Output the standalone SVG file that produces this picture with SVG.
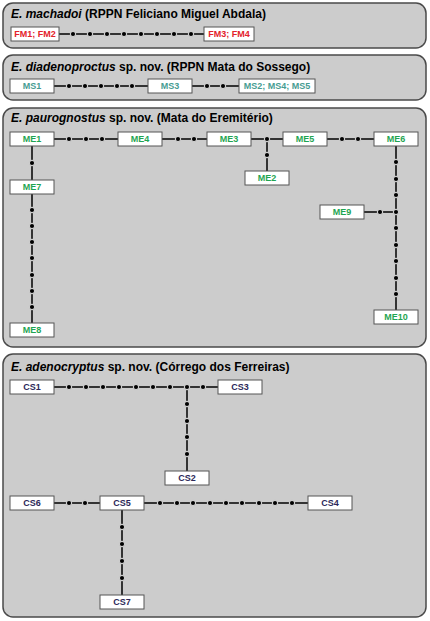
<svg xmlns="http://www.w3.org/2000/svg" width="430" height="621" viewBox="0 0 430 621">
<style>
.panel{fill:#cccccc;stroke:#4a4a4a;stroke-width:1.5}
.title{font-family:"Liberation Sans",Arial,sans-serif;font-size:12px;font-weight:bold;fill:#000}
.it{font-style:italic}
.box{fill:#fff;stroke:#555;stroke-width:1}
.lbl{font-family:"Liberation Sans",Arial,sans-serif;font-size:9px;font-weight:bold;text-anchor:middle}
.fm{fill:#e3222b}.ms{fill:#479c92}.me{fill:#1fa552}.cs{fill:#2c2858}
.ln{stroke:#000;stroke-width:1.5;fill:none}
.dot circle{fill:#000;stroke:#cccccc;stroke-width:1.1}
</style>
<g id="panels">
<rect class="panel" x="3" y="3" width="423" height="45" rx="10"/>
<rect class="panel" x="3" y="55" width="423" height="45" rx="10"/>
<rect class="panel" x="3" y="108" width="423" height="239" rx="10"/>
<rect class="panel" x="3" y="354" width="423" height="263" rx="10"/>
<text class="title" x="11" y="18"><tspan class="it">E. machadoi</tspan> (RPPN Feliciano Miguel Abdala)</text>
<text class="title" x="11" y="71"><tspan class="it">E. diadenoproctus</tspan> sp. nov. (RPPN Mata do Sossego)</text>
<text class="title" x="11" y="122"><tspan class="it">E. paurognostus</tspan> sp. nov. (Mata do Eremitério)</text>
<text class="title" x="11" y="371"><tspan class="it">E. adenocryptus</tspan> sp. nov. (Córrego dos Ferreiras)</text>
</g>
<g id="connectors">
<path class="ln" d="M59 34H204 M54 86H148 M192 86H239 M54 139H118 M162 139H207 M251 139H283 M327 139H374 M267 139V171 M32 146V180 M32 194V323 M396 146V310 M364 212H396 M54 387H218 M187 387V471 M54 503H100 M144 503H308 M122 510V595"/>
<g class="dot">
<circle cx="73" cy="34" r="2.6"/><circle cx="90" cy="34" r="2.6"/><circle cx="107" cy="34" r="2.6"/><circle cx="124" cy="34" r="2.6"/><circle cx="141" cy="34" r="2.6"/><circle cx="157" cy="34" r="2.6"/><circle cx="174" cy="34" r="2.6"/><circle cx="191" cy="34" r="2.6"/>
<circle cx="69" cy="86" r="2.6"/><circle cx="85" cy="86" r="2.6"/><circle cx="101" cy="86" r="2.6"/><circle cx="117" cy="86" r="2.6"/><circle cx="132" cy="86" r="2.6"/>
<circle cx="207" cy="86" r="2.6"/><circle cx="223" cy="86" r="2.6"/>
<circle cx="69" cy="139" r="2.6"/><circle cx="86" cy="139" r="2.6"/><circle cx="102" cy="139" r="2.6"/>
<circle cx="178" cy="139" r="2.6"/><circle cx="194" cy="139" r="2.6"/>
<circle cx="267" cy="139" r="2.6"/><circle cx="267" cy="155" r="2.6"/>
<circle cx="342" cy="139" r="2.6"/><circle cx="358" cy="139" r="2.6"/>
<circle cx="32" cy="163" r="2.6"/>
<circle cx="32" cy="210" r="2.6"/><circle cx="32" cy="226" r="2.6"/><circle cx="32" cy="242" r="2.6"/><circle cx="32" cy="258" r="2.6"/><circle cx="32" cy="275" r="2.6"/><circle cx="32" cy="291" r="2.6"/><circle cx="32" cy="307" r="2.6"/>
<circle cx="396" cy="162" r="2.6"/><circle cx="396" cy="179" r="2.6"/><circle cx="396" cy="195" r="2.6"/><circle cx="396" cy="212" r="2.6"/><circle cx="396" cy="228" r="2.6"/><circle cx="396" cy="245" r="2.6"/><circle cx="396" cy="261" r="2.6"/><circle cx="396" cy="278" r="2.6"/><circle cx="396" cy="294" r="2.6"/>
<circle cx="380" cy="212" r="2.6"/>
<circle cx="69" cy="387" r="2.6"/><circle cx="86" cy="387" r="2.6"/><circle cx="103" cy="387" r="2.6"/><circle cx="119" cy="387" r="2.6"/><circle cx="136" cy="387" r="2.6"/><circle cx="153" cy="387" r="2.6"/><circle cx="170" cy="387" r="2.6"/><circle cx="187" cy="387" r="2.6"/><circle cx="203" cy="387" r="2.6"/>
<circle cx="187" cy="404" r="2.6"/><circle cx="187" cy="421" r="2.6"/><circle cx="187" cy="437" r="2.6"/><circle cx="187" cy="454" r="2.6"/>
<circle cx="69" cy="503" r="2.6"/><circle cx="85" cy="503" r="2.6"/>
<circle cx="160" cy="503" r="2.6"/><circle cx="177" cy="503" r="2.6"/><circle cx="193" cy="503" r="2.6"/><circle cx="210" cy="503" r="2.6"/><circle cx="226" cy="503" r="2.6"/><circle cx="242" cy="503" r="2.6"/><circle cx="259" cy="503" r="2.6"/><circle cx="275" cy="503" r="2.6"/><circle cx="292" cy="503" r="2.6"/>
<circle cx="122" cy="527" r="2.6"/><circle cx="122" cy="544" r="2.6"/><circle cx="122" cy="561" r="2.6"/><circle cx="122" cy="578" r="2.6"/>
</g>
</g>
<g id="FM12"><rect class="box" x="11" y="27" width="48" height="14"/><text class="lbl fm" x="35" y="37.3">FM1; FM2</text></g>
<g id="FM34"><rect class="box" x="204" y="27" width="50" height="14"/><text class="lbl fm" x="229" y="37.3">FM3; FM4</text></g>
<g id="MS1"><rect class="box" x="10" y="79" width="44" height="14"/><text class="lbl ms" x="32" y="89.3">MS1</text></g>
<g id="MS3"><rect class="box" x="148" y="79" width="44" height="14"/><text class="lbl ms" x="170" y="89.3">MS3</text></g>
<g id="MS245"><rect class="box" x="239" y="79" width="76" height="14"/><text class="lbl ms" x="277" y="89.3">MS2; MS4; MS5</text></g>
<g id="ME1"><rect class="box" x="10" y="132" width="44" height="14"/><text class="lbl me" x="32" y="142.3">ME1</text></g>
<g id="ME4"><rect class="box" x="118" y="132" width="44" height="14"/><text class="lbl me" x="140" y="142.3">ME4</text></g>
<g id="ME3"><rect class="box" x="207" y="132" width="44" height="14"/><text class="lbl me" x="229" y="142.3">ME3</text></g>
<g id="ME5"><rect class="box" x="283" y="132" width="44" height="14"/><text class="lbl me" x="305" y="142.3">ME5</text></g>
<g id="ME6"><rect class="box" x="374" y="132" width="44" height="14"/><text class="lbl me" x="396" y="142.3">ME6</text></g>
<g id="ME2"><rect class="box" x="245" y="171" width="44" height="14"/><text class="lbl me" x="267" y="181.3">ME2</text></g>
<g id="ME7"><rect class="box" x="10" y="180" width="44" height="14"/><text class="lbl me" x="32" y="190.3">ME7</text></g>
<g id="ME9"><rect class="box" x="320" y="205" width="44" height="14"/><text class="lbl me" x="342" y="215.3">ME9</text></g>
<g id="ME10"><rect class="box" x="374" y="310" width="44" height="14"/><text class="lbl me" x="396" y="320.3">ME10</text></g>
<g id="ME8"><rect class="box" x="10" y="323" width="44" height="14"/><text class="lbl me" x="32" y="333.3">ME8</text></g>
<g id="CS1"><rect class="box" x="10" y="380" width="44" height="14"/><text class="lbl cs" x="32" y="390.3">CS1</text></g>
<g id="CS3"><rect class="box" x="218" y="380" width="44" height="14"/><text class="lbl cs" x="240" y="390.3">CS3</text></g>
<g id="CS2"><rect class="box" x="165" y="471" width="44" height="14"/><text class="lbl cs" x="187" y="481.3">CS2</text></g>
<g id="CS6"><rect class="box" x="10" y="496" width="44" height="14"/><text class="lbl cs" x="32" y="506.3">CS6</text></g>
<g id="CS5"><rect class="box" x="100" y="496" width="44" height="14"/><text class="lbl cs" x="122" y="506.3">CS5</text></g>
<g id="CS4"><rect class="box" x="308" y="496" width="44" height="14"/><text class="lbl cs" x="330" y="506.3">CS4</text></g>
<g id="CS7"><rect class="box" x="100" y="595" width="44" height="14"/><text class="lbl cs" x="122" y="605.3">CS7</text></g>
</svg>
